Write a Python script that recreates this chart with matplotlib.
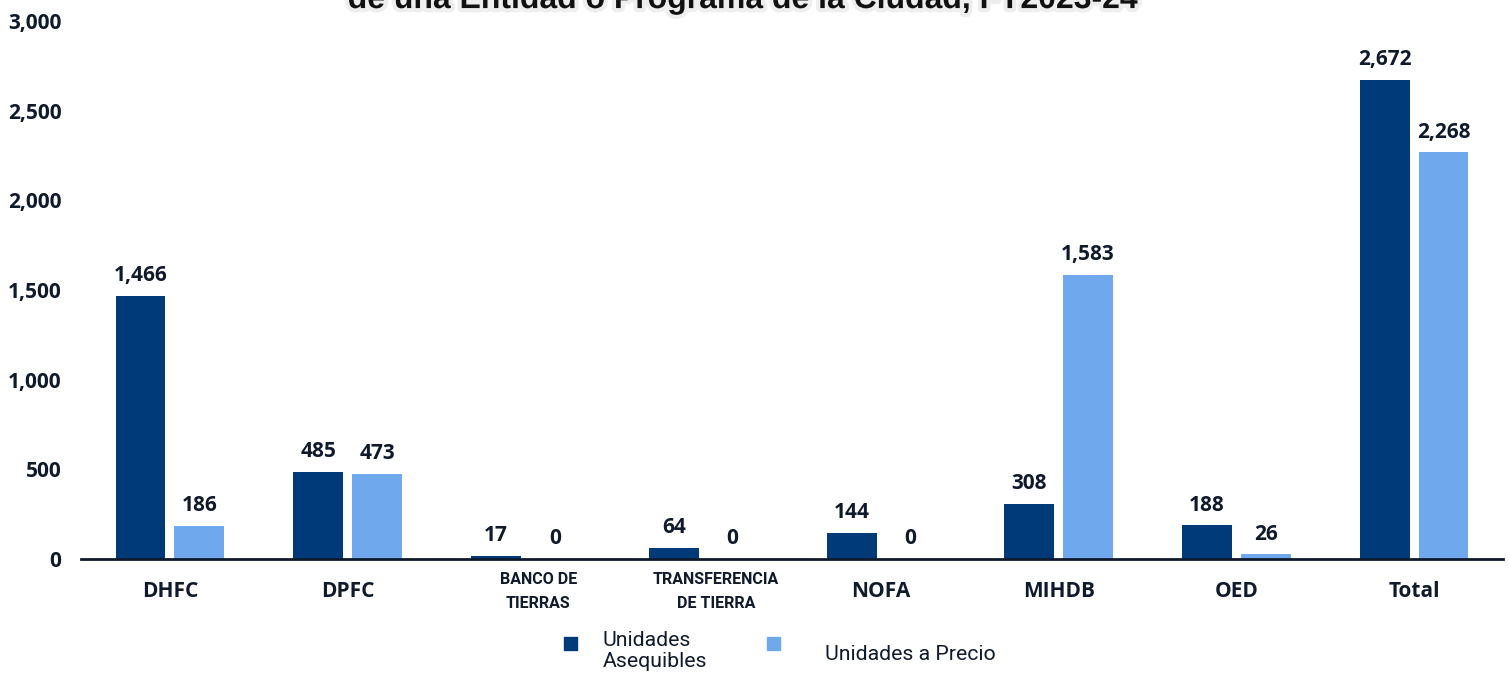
import numpy as np
import matplotlib.pyplot as plt
from matplotlib.patches import Rectangle
from matplotlib.transforms import ScaledTranslation
import matplotlib.patheffects as pe

categories = ["DHFC", "DPFC", "BANCO DE\nTIERRAS", "TRANSFERENCIA\nDE TIERRA",
              "NOFA", "MIHDB", "OED", "Total"]
asequibles = [1466, 485, 17, 64, 144, 308, 188, 2672]
a_precio = [186, 473, 0, 0, 0, 1583, 26, 2268]
yticks = [0, 500, 1000, 1500, 2000, 2500, 3000]

dark = "#003A78"
light = "#70A8EE"
txt = "#0F1A2C"

fig = plt.figure(figsize=(15.09, 6.73), dpi=100)
ax = fig.add_axes([0.0537, 0.1694, 0.9424, 0.7994])

x = np.arange(len(categories))
w = 0.28
off = 0.165
b1 = ax.bar(x - off, asequibles, w, color=dark)
b2 = ax.bar(x + off, a_precio, w, color=light)

for bars, vals in ((b1, asequibles), (b2, a_precio)):
    for b, v in zip(bars, vals):
        ax.annotate(f"{v:,}", (b.get_x() + b.get_width() / 2, v),
                    xytext=(0, 7), textcoords="offset points",
                    ha="center", va="bottom", fontsize=15,
                    fontweight="bold", family="Open Sans", color=txt)

ax.set_xlim(-0.5, len(categories) - 0.5)
ax.set_ylim(0, 3000)
ax.set_yticks(yticks)
ax.set_yticklabels([f"{t:,}" for t in yticks], fontsize=15,
                   fontweight="bold", family="Open Sans", color=txt)
ax.tick_params(axis="y", length=0, pad=14)
ax.tick_params(axis="x", length=0, pad=16)
ax.set_xticks(x)
ax.set_xticklabels(categories, color=txt)
shift = ScaledTranslation(0.13, 0, fig.dpi_scale_trans)
for i, lab in enumerate(ax.get_xticklabels()):
    if "\n" in categories[i]:
        lab.set_fontsize(11.5)
        lab.set_family("Roboto")
        lab.set_fontweight("bold")
        lab.set_linespacing(1.75)
        lab.set_y(0.018)
        lab.set_transform(lab.get_transform() + shift)
    else:
        lab.set_fontsize(15)
        lab.set_family("Open Sans")
        lab.set_fontweight("bold")

for s in ("top", "right", "left"):
    ax.spines[s].set_visible(False)
ax.spines["bottom"].set_color(txt)
ax.spines["bottom"].set_linewidth(2)

# title, cut off at the top edge as in the original
fig.text(0.492, 0.988, "de una Entidad o Programa de la Ciudad, FY2023-24",
         ha="center", va="baseline", fontsize=23, fontweight="bold",
         family=["Liberation Sans", "DejaVu Sans"], color="#111111",
         path_effects=[pe.withStroke(linewidth=6, foreground="#eeeeee")])

# legend
fig.add_artist(Rectangle((564 / 1509, 1 - 650 / 673), 13 / 1509, 13 / 673,
                         transform=fig.transFigure, color=dark))
fig.add_artist(Rectangle((767 / 1509, 1 - 650 / 673), 13 / 1509, 13 / 673,
                         transform=fig.transFigure, color=light))
fig.text(603 / 1509, 1 - 651 / 673, "Unidades\nAsequibles", ha="left",
         va="center", fontsize=15.3, family="Roboto", color=txt, linespacing=1.1)
fig.text(825 / 1509, 1 - 655 / 673, "Unidades a Precio", ha="left",
         va="center", fontsize=15.3, family="Roboto", color=txt)

fig.savefig("out.png", dpi=100)
